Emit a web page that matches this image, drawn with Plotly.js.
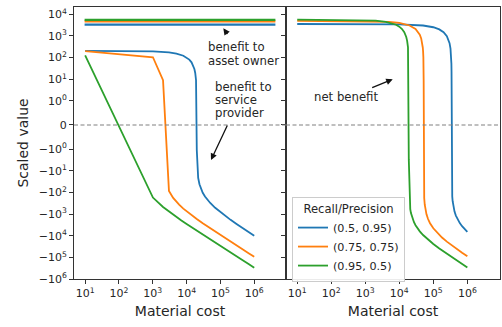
<!DOCTYPE html>
<html><head><meta charset="utf-8">
<script src="https://cdn.plot.ly/plotly-3.0.1.min.js"></script>
<style>html,body{margin:0;padding:0;background:#fff}#chart{width:502px;height:327px}</style>
</head><body><div id="chart"></div>
<script>
// ---------------- data ----------------
const seriesNames = ['(0.5, 0.95)', '(0.75, 0.75)', '(0.95, 0.5)'];
const seriesColors = ['#1f77b4', '#ff7f0e', '#2ca02c'];

// benefit to asset owner (constant lines, left panel)
const assetOwnerBenefit = [3350, 4750, 5570];

// benefit to service provider (left panel)
const xProvBlue = [10,1010,3010,5010,8010,10010,12010,14010,16010,17010,18010,19010,20010,21010,22010,24010,27010,30010,35010,40010,50010,70010,100010,150010,200010,300010,500010,700010,1000000];
const yProvBlue = [204.9,194.6,174.0,153.4,122.5,101.9,81.3,60.7,40.1,29.8,19.5,9.2,-1.1,-11.4,-21.7,-42.3,-73.2,-104.1,-155.6,-207.1,-310.1,-516.1,-825.1,-1340.1,-1855.1,-2885.1,-4945.1,-7005.1,-10095];
const xProvOrange = [10,1010,2010,3010,4010,5010,6010,8010,10010,15010,20010,30010,50010,70010,100010,150010,200010,300010,500010,700010,1000000];
const yProvOrange = [199.0,104.0,9.0,-86.0,-181.0,-276.0,-371.0,-561.0,-751.0,-1226.0,-1701.0,-2651.0,-4551.0,-6451.0,-9301.0,-14051,-18801,-28301,-47301,-66301,-94800];
const xProvGreen = [10,1010,2010,3010,5010,7010,10010,15010,20010,30010,50010,70010,100010,200010,400010,700010,1000000];
const yProvGreen = [126,-174,-474,-774,-1374,-1974,-2874,-4374,-5874,-8874,-14874,-20874,-29874,-59874,-119874,-209874,-299871];

// net benefit (right panel)
const xNetBlue = [10,10010,50010,100010,150010,200010,250010,280010,300010,320010,330010,335010,340010,343010,344010,345010,346010,347010,350010,355010,360010,370010,390010,420010,460010,520010,600010,700010,850010,1000000];
const yNetBlue = [3555,3451.9,3039.9,2524.9,2009.9,1494.9,979.9,670.9,464.9,258.9,155.9,104.4,52.9,22.0,11.7,1.4,-8.9,-19.2,-50.1,-101.6,-153.1,-256.1,-462.1,-771.1,-1183.1,-1801.1,-2625.1,-3655.1,-5200.1,-6745];
const xNetOrange = [10,5010,10010,20010,30010,36010,40010,44010,47010,49010,50010,51010,52010,53010,54010,56010,59010,63010,70010,80010,100010,130010,180010,250010,350010,500010,700010,1000000];
const yNetOrange = [4949,4474,3999,3049,2099,1529,1149,769,484,294,199,104,9,-86,-181,-371,-656,-1036,-1701,-2651,-4551,-7401,-12151,-18801,-28301,-42551,-61551,-90050];
const xNetGreen = [10,2010,4010,6010,8010,10010,12010,14010,15010,16010,17010,18010,19010,20010,21010,22010,24010,27010,30010,35010,40010,50010,70010,100010,150010,250010,400010,650010,1000000];
const yNetGreen = [5697,5097,4497,3897,3297,2697,2097,1497,1197,897,597,297,-3,-303,-603,-903,-1503,-2403,-3303,-4803,-6303,-9303,-15303,-24303,-39303,-69303,-114303,-189303,-294300];

// ticks
const yTickValues = [1e4,1e3,1e2,1e1,1,0,-1,-1e1,-1e2,-1e3,-1e4,-1e5,-1e6];
const yTickLabels = ['10<sup>4</sup>','10<sup>3</sup>','10<sup>2</sup>','10<sup>1</sup>','10<sup>0</sup>','0',
  '\u221210<sup>0</sup>','\u221210<sup>1</sup>','\u221210<sup>2</sup>','\u221210<sup>3</sup>','\u221210<sup>4</sup>','\u221210<sup>5</sup>','\u221210<sup>6</sup>'];
const xTickValues = [10,100,1e3,1e4,1e5,1e6];
const xTickLabels = ['10<sup>1</sup>','10<sup>2</sup>','10<sup>3</sup>','10<sup>4</sup>','10<sup>5</sup>','10<sup>6</sup>'];

// ---------------- symlog scale (linthresh 1, base 10) ----------------
const LS = 1 / (1 - 1 / 10);
function T(v) { const a = Math.abs(v); return a <= 1 ? v * LS : Math.sign(v) * (LS + Math.log10(a)); }

const FONT = 'DejaVu Sans, sans-serif';
const W = 502, H = 327, ML = 74, MR = 2, MT = 7, MB = 48;
const PW = W - ML - MR, PH = H - MT - MB;
const split = 212 / PW;
const px = x => (x - ML) / PW;
const py = y => (H - MB - y) / PH;

const provX = [xProvBlue, xProvOrange, xProvGreen];
const provY = [yProvBlue, yProvOrange, yProvGreen];
const netX = [xNetBlue, xNetOrange, xNetGreen];
const netY = [yNetBlue, yNetOrange, yNetGreen];

const traces = [];
for (let i = 0; i < 3; i++) {
  traces.push({x: provX[i], y: provY[i].map(T), xaxis: 'x', yaxis: 'y', mode: 'lines',
    line: {color: seriesColors[i], width: 1.8}, name: seriesNames[i], showlegend: false, hoverinfo: 'skip'});
}
for (let i = 0; i < 3; i++) {
  traces.push({x: netX[i], y: netY[i].map(T), xaxis: 'x2', yaxis: 'y2', mode: 'lines',
    line: {color: seriesColors[i], width: 1.8}, name: seriesNames[i], showlegend: true, hoverinfo: 'skip'});
}

const shapes = [];
for (let i = 0; i < 3; i++) {
  shapes.push({type: 'line', xref: 'x domain', yref: 'y', x0: 0.05, x1: 0.95,
    y0: T(assetOwnerBenefit[i]), y1: T(assetOwnerBenefit[i]), line: {color: seriesColors[i], width: 2.2}});
}
shapes.push({type: 'line', xref: 'x domain', yref: 'y', x0: 0, x1: 1, y0: T(0), y1: T(0), line: {color: '#808080', width: 1.2, dash: '4px,2.5px'}});
shapes.push({type: 'line', xref: 'x2 domain', yref: 'y2', x0: 0, x1: 1, y0: T(0), y1: T(0), line: {color: '#808080', width: 1.2, dash: '4px,2.5px'}});

const annFont = {family: FONT, size: 11.7, color: '#262626'};
function txt(t, x, y) {
  return {text: t, xref: 'paper', yref: 'paper', x: px(x), y: py(y), xanchor: 'left', yanchor: 'middle',
    showarrow: false, font: annFont, borderpad: 0};
}
function arrow(hx, hy, tx, ty) {
  return {text: '', xref: 'paper', yref: 'paper', x: px(hx), y: py(hy), ax: tx - hx, ay: ty - hy,
    showarrow: true, arrowhead: 2, arrowsize: 1, arrowwidth: 1.3, arrowcolor: '#111', standoff: 0, startstandoff: 0};
}
const annotations = [
  txt('benefit to', 207, 47), txt('asset owner', 207, 61),
  txt('benefit to', 214, 87), txt('service', 214, 100), txt('provider', 214, 113),
  txt('net benefit', 313, 97),
  arrow(223.3, 28.3, 228.5, 35.5),
  arrow(211, 160, 228, 124),
  arrow(392.7, 79.3, 370.7, 88.3)
];

const yRange = [T(-1e6), 5.448];
const axColor = '#333';
const tickFont = {family: FONT, size: 11, color: '#262626'};
const xBase = {type: 'log', tickvals: xTickValues, ticktext: xTickLabels, ticks: 'outside', ticklen: 4, tickcolor: axColor,
  showline: true, linecolor: axColor, linewidth: 1, mirror: true, showgrid: false, zeroline: false, tickfont: tickFont,
  automargin: false, title: {text: 'Material cost', font: {family: FONT, size: 14, color: '#262626'}, standoff: 6}};

const layout = {
  width: W, height: H, margin: {l: ML, r: MR, t: MT, b: MB, pad: 0},
  paper_bgcolor: '#fff', plot_bgcolor: '#fff', font: {family: FONT, color: '#262626'},
  xaxis: Object.assign({}, xBase, {domain: [0, split], range: [0.67, 6.94], anchor: 'y'}),
  xaxis2: Object.assign({}, xBase, {domain: [split, 1], range: [0.67, 6.96], anchor: 'y2'}),
  yaxis: {range: yRange, tickvals: yTickValues.map(T), ticktext: yTickLabels, ticks: 'outside', ticklen: 4, tickcolor: axColor,
    showline: true, linecolor: axColor, linewidth: 1, mirror: true, showgrid: false, zeroline: false, tickfont: tickFont,
    automargin: false, anchor: 'x', title: {text: 'Scaled value', font: {family: FONT, size: 14, color: '#262626'}, standoff: 6}},
  yaxis2: {range: yRange, matches: 'y', tickvals: yTickValues.map(T), ticktext: yTickLabels, showticklabels: false, ticks: 'outside', ticklen: 4, tickcolor: axColor,
    showline: true, linecolor: axColor, linewidth: 1, mirror: true, showgrid: false, zeroline: false, anchor: 'x2', automargin: false},
  showlegend: true,
  legend: {x: px(292), y: py(197), xanchor: 'left', yanchor: 'top', bgcolor: 'rgba(255,255,255,0.9)', bordercolor: '#cccccc', borderwidth: 1,
    font: {family: FONT, size: 11.2, color: '#262626'}, title: {text: 'Recall/Precision', side: 'top center', font: {family: FONT, size: 11.6, color: '#262626'}},
    itemwidth: 30, tracegroupgap: 0},
  shapes: shapes, annotations: annotations
};

Plotly.newPlot('chart', traces, layout, {staticPlot: true, displayModeBar: false});
</script>
</body></html>
